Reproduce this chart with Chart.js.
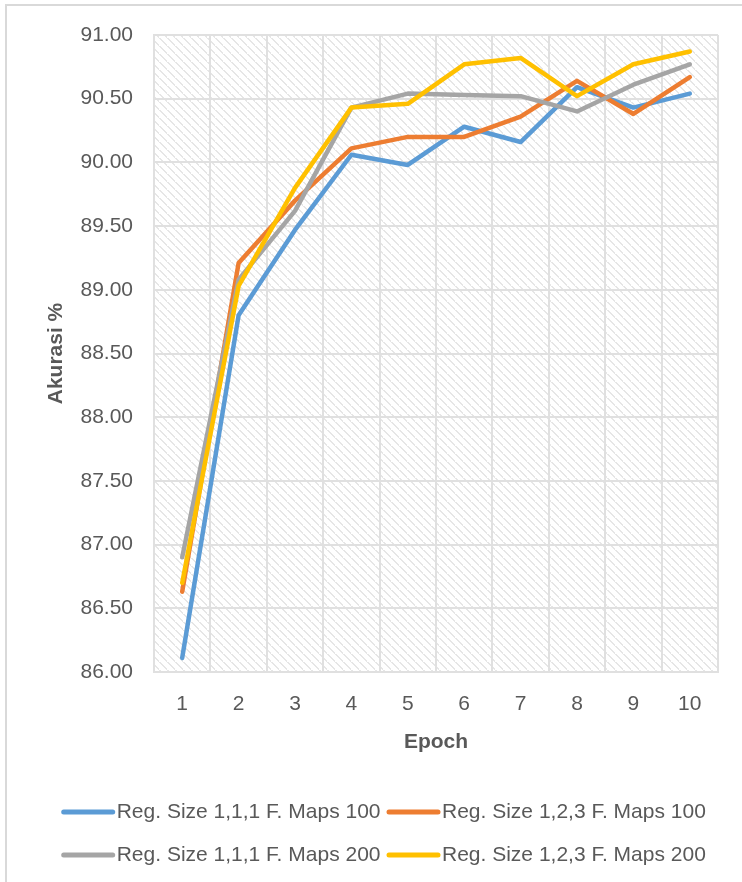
<!DOCTYPE html>
<html>
<head>
<meta charset="utf-8">
<script src="https://cdn.jsdelivr.net/npm/chart.js@4.4.1/dist/chart.umd.min.js"></script>
</head>
<body style="margin:0;overflow:hidden;background:#fff">
<div style="position:absolute;left:5px;top:4px;width:753px;height:880px;border-left:2px solid #d9d9d9;border-top:2px solid #d9d9d9">
<canvas id="myChart" width="753" height="880"></canvas>
</div>
<script>
// data
const epochs = ['1','2','3','4','5','6','7','8','9','10']
const seriesNames = ['Reg. Size 1,1,1 F. Maps 100','Reg. Size 1,2,3 F. Maps 100','Reg. Size 1,1,1 F. Maps 200','Reg. Size 1,2,3 F. Maps 200']
const size111maps100 = [86.11, 88.80, 89.47, 90.06, 89.98, 90.28, 90.16, 90.59, 90.43, 90.54]
const size123maps100 = [86.63, 89.21, 89.70, 90.11, 90.20, 90.20, 90.36, 90.64, 90.38, 90.67]
const size111maps200 = [86.90, 89.08, 89.62, 90.43, 90.54, 90.53, 90.52, 90.40, 90.61, 90.77]
const size123maps200 = [86.70, 89.03, 89.80, 90.43, 90.46, 90.77, 90.82, 90.52, 90.77, 90.87]
const colors = ['#5B9BD5','#ED7D31','#A5A5A5','#FFC000']

const textColor = '#595959'
const gridColor = '#e0e0e0'

// hatched plot background
const tile = document.createElement('canvas')
tile.width = 8
tile.height = 8
const tctx = tile.getContext('2d')
tctx.fillStyle = '#ffffff'
tctx.fillRect(0,0,8,8)
tctx.fillStyle = '#e6e6e6'
for(let i=0;i<8;i++){
    tctx.fillRect(i,i,2,1)
}

const hatch = {
    id:'hatch',
    beforeDraw(chart){
        const {ctx,chartArea:a}=chart
        ctx.save()
        ctx.fillStyle = ctx.createPattern(tile,'repeat')
        ctx.fillRect(a.left,a.top,a.right-a.left,a.bottom-a.top)
        ctx.restore()
    }
}

// legend sample lines, drawn on the legend's own hitboxes
const legendLines = {
    id:'legendLines',
    afterDraw(chart){
        const lg = chart.legend
        const ctx = chart.ctx
        lg.legendItems.forEach((item,i)=>{
            const hb = lg.legendHitBoxes[i]
            const y = hb.top + hb.height/2
            ctx.save()
            ctx.strokeStyle = colors[item.datasetIndex]
            ctx.lineWidth = 5
            ctx.lineCap = 'round'
            ctx.beginPath()
            ctx.moveTo(hb.left+2.5,y)
            ctx.lineTo(hb.left+51.5,y)
            ctx.stroke()
            ctx.restore()
        })
    }
}

const allValues = [size111maps100,size123maps100,size111maps200,size123maps200]
const datasets = allValues.map((vals,i)=>({
    label:seriesNames[i],
    data:vals,
    borderColor:colors[i],
    backgroundColor:colors[i],
    borderWidth:4.5,
    pointRadius:0,
    tension:0,
    borderJoinStyle:'round',
    borderCapStyle:'round',
    order:3-i
}))

const ctx = document.getElementById('myChart')
new Chart(ctx,{
    type:'line',
    data:{labels:epochs,datasets:datasets},
    options:{
        responsive:false,
        animation:false,
        devicePixelRatio:1,
        layout:{padding:{top:29,left:0,right:0,bottom:2.5}},
        plugins:{
            tooltip:{enabled:false},
            legend:{
                position:'bottom',
                labels:{
                    color:textColor,
                    font:{family:'Liberation Sans',size:21},
                    boxWidth:45,
                    boxHeight:37,
                    padding:6,
                    generateLabels(chart){
                        const items = Chart.defaults.plugins.legend.labels.generateLabels(chart)
                        items.sort((a,b)=>a.datasetIndex-b.datasetIndex)
                        items.forEach(it=>{
                            it.fillStyle='rgba(0,0,0,0)'
                            it.strokeStyle='rgba(0,0,0,0)'
                            it.lineWidth=0
                        })
                        return items
                    }
                }
            }
        },
        scales:{
            x:{
                offset:true,
                grid:{offset:true,color:gridColor,lineWidth:2,drawTicks:false},
                border:{color:gridColor,width:2},
                ticks:{color:textColor,font:{family:'Liberation Sans',size:21},padding:20,maxRotation:0},
                title:{display:true,text:'Epoch',color:textColor,font:{family:'Liberation Sans',size:21,weight:'bold'},padding:{top:0,bottom:33}},
                afterFit(scale){
                    scale.height = 115.5
                    scale.paddingRight = 42
                }
            },
            y:{
                min:86,
                max:91,
                grid:{color:gridColor,lineWidth:2,drawTicks:false},
                border:{color:gridColor,width:2},
                ticks:{stepSize:0.5,color:textColor,font:{family:'Liberation Sans',size:21},padding:21,
                    callback:(v)=>v.toFixed(2)},
                title:{display:true,text:'Akurasi %',color:textColor,font:{family:'Liberation Sans',size:21,weight:'bold'},padding:{top:37,bottom:0}},
                afterFit(scale){
                    scale.width = 147
                    scale.paddingTop = 0
                    scale.paddingBottom = 0
                }
            }
        }
    },
    plugins:[hatch,legendLines]
})
</script>
</body>
</html>
